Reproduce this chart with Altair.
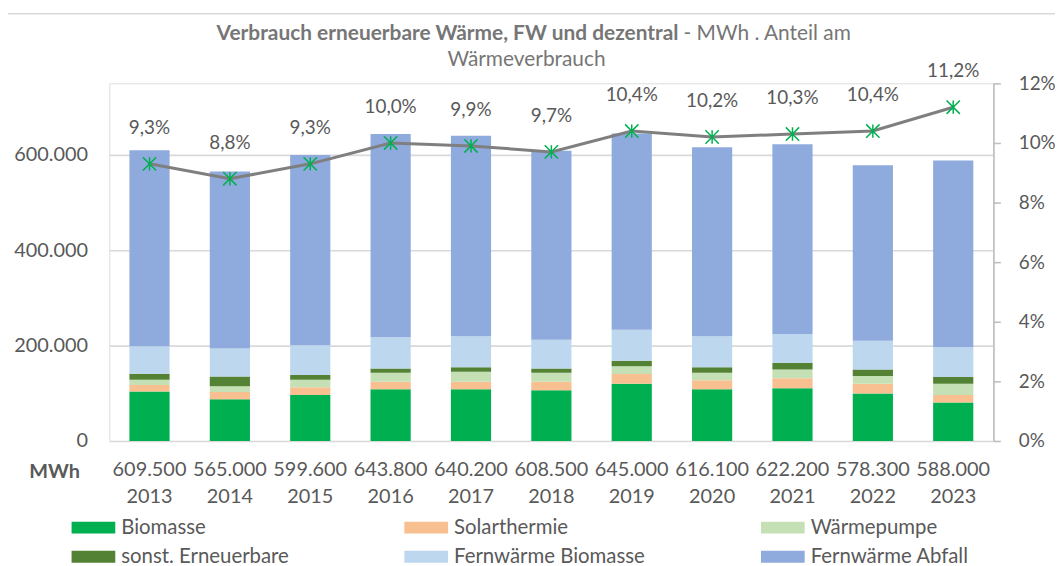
import altair as alt
import pandas as pd

years = ["2013", "2014", "2015", "2016", "2017", "2018", "2019", "2020", "2021", "2022", "2023"]
totals = [609500, 565000, 599600, 643800, 640200, 608500, 645000, 616100, 622200, 578300, 588000]
share_pct = [9.3, 8.8, 9.3, 10.0, 9.9, 9.7, 10.4, 10.2, 10.3, 10.4, 11.2]

series = ["Biomasse", "Solarthermie", "Wärmepumpe", "sonst. Erneuerbare",
          "Fernwärme Biomasse", "Fernwärme Abfall"]
colors = ["#00b050", "#f8c090", "#c5e0b4", "#548235", "#bdd7ee", "#8faadc"]

biomasse = [103500, 87500, 96500, 108300, 108300, 106300, 120200, 108300, 110400, 99300, 80600]
solar = [13800, 15200, 16000, 16000, 16000, 18000, 20100, 18800, 20900, 20900, 15900]
waermepumpe = [11200, 11900, 16000, 18800, 20900, 18800, 16600, 16000, 18700, 15900, 23700]
sonst = [12500, 20800, 9700, 9000, 9600, 9000, 11200, 11700, 13900, 13900, 13800]
fw_bio = [57600, 58400, 62400, 65200, 64600, 60400, 65200, 64600, 60400, 60400, 62500]
fw_abfall = [410900, 371200, 399000, 426500, 420800, 396000, 411700, 396700, 397900, 367900, 391500]

left_ticks = [0, 200000, 400000, 600000]
right_ticks = [0, 2, 4, 6, 8, 10, 12]

FONT = "Lato"
GREY = "#595959"

# ---- tables ----
values = [biomasse, solar, waermepumpe, sonst, fw_bio, fw_abfall]
rows = []
for si, (name, vals) in enumerate(zip(series, values)):
    for y, v in zip(years, vals):
        rows.append({"year": y, "series": name, "idx": si, "value": v})
df_bars = pd.DataFrame(rows)
df_line = pd.DataFrame({"year": years, "pct": share_pct})

total_labels = [f"{t:,}".replace(",", ".") for t in totals]
years_js = "[" + ",".join(f"'{y}'" for y in years) + "]"
tots_js = "[" + ",".join(f"'{t}'" for t in total_labels) + "]"
x_label_expr = f"[{tots_js}[indexof({years_js}, datum.value)], datum.value]"

x_enc = alt.X(
    "year:N", sort=years,
    scale=alt.Scale(paddingInner=0.5, paddingOuter=0.25),
    axis=alt.Axis(title=None, labelExpr=x_label_expr, domain=False, ticks=False,
                  labelAngle=0, labelFontSize=20, labelColor=GREY, labelFont=FONT,
                  labelPadding=19, labelLineHeight=27, labelBaseline="top"),
)

ASTER = "M0,-1L0,1M-1,-1L1,1M-1,1L1,-1"
SWATCH = "M-1.467,-0.4H1.467V0.4H-1.467Z"

bars = alt.Chart(df_bars).mark_bar().encode(
    x=x_enc,
    y=alt.Y("value:Q", stack="zero",
            scale=alt.Scale(domain=[0, 750000], nice=False),
            axis=alt.Axis(title=None, values=left_ticks,
                          labelExpr="replace(format(datum.value, ',.0f'), ',', '.')",
                          grid=True, gridColor="#d9d9d9", gridWidth=1.6,
                          domain=False, ticks=False, labelPadding=22,
                          labelFontSize=20, labelColor=GREY, labelFont=FONT)),
    color=alt.Color("series:N", sort=series,
                    scale=alt.Scale(domain=series, range=colors),
                    legend=alt.Legend(title=None, orient="none", legendX=-31, legendY=432,
                                      columns=3, direction="horizontal",
                                      symbolType=SWATCH, symbolSize=900,
                                      symbolStrokeWidth=0, symbolOpacity=1,
                                      labelOffset=13, labelFontSize=20.5, labelColor=GREY,
                                      labelFont=FONT, columnPadding=115, rowPadding=3.5,
                                      padding=0, labelLimit=300)),
    order=alt.Order("idx:Q", sort="ascending"),
)

line_base = alt.Chart(df_line).transform_calculate(
    lab="replace(format(datum.pct, '.1f'), '.', ',') + '%'"
).encode(
    x=alt.X("year:N", sort=years),
    y=alt.Y("pct:Q", scale=alt.Scale(domain=[0, 12], nice=False),
            axis=alt.Axis(orient="right", title=None, values=right_ticks,
                          labelExpr="datum.value + '%'", grid=False,
                          domain=True, domainColor="#bfbfbf", domainWidth=1.6,
                          ticks=True, tickColor="#bfbfbf", tickSize=7, tickWidth=1.6,
                          labelPadding=18, labelFontSize=19, labelColor=GREY,
                          labelFont=FONT)),
)
line = line_base.mark_line(color="#7f7f7f", strokeWidth=3)
pts = line_base.mark_point(shape=ASTER, filled=False, color="#00b050",
                           strokeWidth=1.5, size=180, opacity=1)
lbl = line_base.mark_text(dy=-36, fontSize=19, color=GREY, font=FONT).encode(text="lab:N")
line_group = alt.layer(line, pts, lbl)

# ---- decoration: title, unit label, frame ----
TITLE_GREY = "#767676"
title_bold = alt.Chart(pd.DataFrame({"t": ["Verbrauch erneuerbare Wärme, FW und dezentral"]})).mark_text(
    align="right", baseline="middle", fontSize=21, fontWeight="bold", color=TITLE_GREY, font=FONT
).encode(x=alt.value(573), y=alt.value(-50), text="t:N")
title_norm = alt.Chart(pd.DataFrame({"t": ["- MWh  .  Anteil am"]})).mark_text(
    align="left", baseline="middle", fontSize=21, color=TITLE_GREY, font=FONT
).encode(x=alt.value(578), y=alt.value(-50), text="t:N")
title_2 = alt.Chart(pd.DataFrame({"t": ["Wärmeverbrauch"]})).mark_text(
    align="center", baseline="middle", fontSize=21, color=TITLE_GREY, font=FONT
).encode(x=alt.value(420), y=alt.value(-23), text="t:N")
unit = alt.Chart(pd.DataFrame({"t": ["MWh"]})).mark_text(
    align="center", baseline="middle", fontSize=20, fontWeight="bold", color=GREY, font=FONT
).encode(x=alt.value(-55), y=alt.value(391), text="t:N")
frame_top = alt.Chart(pd.DataFrame({"a": [0]})).mark_rule(color="#d9d9d9", strokeWidth=1.5).encode(
    x=alt.value(-103), x2=alt.value(960), y=alt.value(-70))
frame_left = alt.Chart(pd.DataFrame({"a": [0]})).mark_rule(color="#d9d9d9", strokeWidth=1.5).encode(
    x=alt.value(-103), y=alt.value(-70), y2=alt.value(500))

chart = alt.layer(
    bars, line_group, title_bold, title_norm, title_2, unit, frame_top, frame_left
).resolve_scale(
    y="independent"
).properties(
    width=890, height=360,
    autosize=alt.AutoSizeParams(type="none"),
    padding={"left": 102, "top": 74, "right": 62, "bottom": 124},
).configure_view(stroke=None).configure(font=FONT)

chart.save("out.html", embed_options={"renderer": "svg", "actions": False})
